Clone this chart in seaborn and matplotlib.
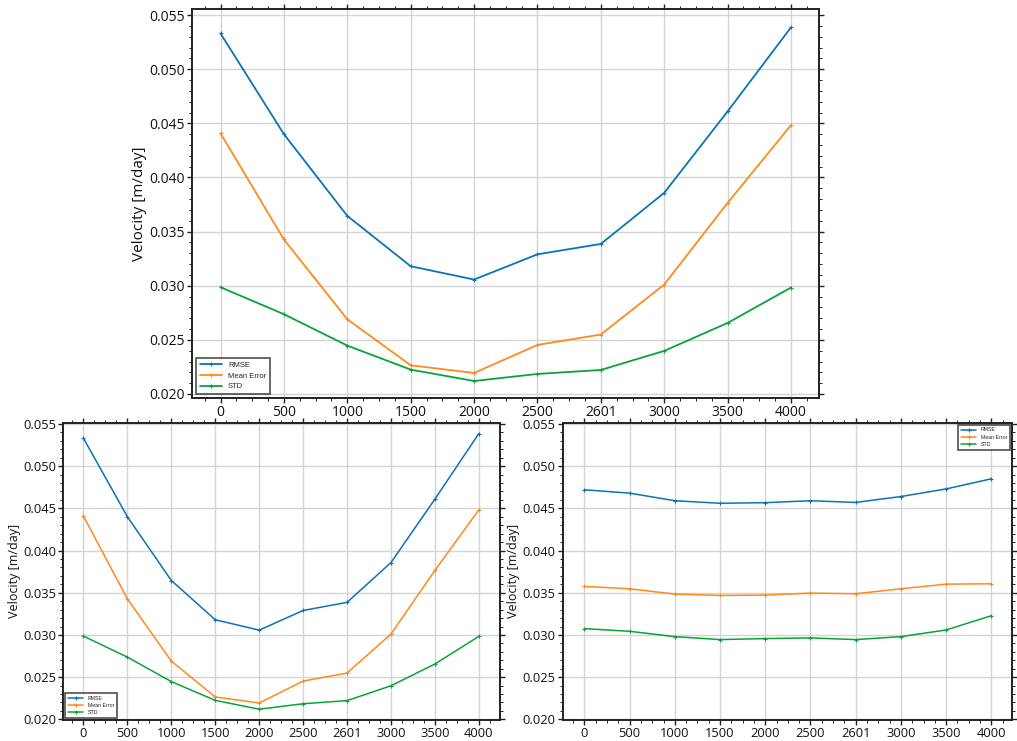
import matplotlib
matplotlib.use("Agg")
import matplotlib.pyplot as plt
import seaborn as sns
from matplotlib.ticker import AutoMinorLocator, MultipleLocator, FormatStrFormatter

sns.set_theme(style="white")
plt.rcParams['font.family'] = ['Open Sans', 'DejaVu Sans']

categories = ["0", "500", "1000", "1500", "2000", "2500", "2601", "3000", "3500", "4000"]

rmse_a = [0.0533, 0.0440, 0.03645, 0.0318, 0.03057, 0.0329, 0.03386, 0.03858, 0.0461, 0.05386]
mean_a = [0.04407, 0.03427, 0.0269, 0.02265, 0.02194, 0.02453, 0.02549, 0.03011, 0.03765, 0.04483]
std_a = [0.02986, 0.02737, 0.02447, 0.02225, 0.0212, 0.02185, 0.02222, 0.02398, 0.02656, 0.02983]

rmse_b = [0.0472, 0.0468, 0.0459, 0.0456, 0.04567, 0.0459, 0.0457, 0.0464, 0.0473, 0.0485]
mean_b = [0.03575, 0.03547, 0.03484, 0.03468, 0.03472, 0.03496, 0.03488, 0.03547, 0.03602, 0.03606]
std_b = [0.03075, 0.03043, 0.0298, 0.02945, 0.02957, 0.02965, 0.02945, 0.0298, 0.03059, 0.03228]

series_names = ["RMSE", "Mean Error", "STD"]
colors = ["#0a74b4", "#ff8a1c", "#0aa33a"]
ylabel = "Velocity [m/day]"

fig = plt.figure(figsize=(10.17, 7.41), dpi=100)
ax_top = fig.add_axes([0.1888, 0.4629, 0.617, 0.5245])
ax_bl = fig.add_axes([0.0622, 0.0283, 0.4294, 0.4013])
ax_br = fig.add_axes([0.5533, 0.0283, 0.4415, 0.4013])


def draw(ax, data, fs, lfs, loc, xlim, ylim, lab_fs, lw, bap):
    for name, vals, c in zip(series_names, data, colors):
        sns.lineplot(x=categories, y=vals, sort=False, ax=ax, color=c, label=name,
                     marker="+", markersize=2.8, markeredgewidth=0.8,
                     markeredgecolor=c, markerfacecolor=c, linewidth=lw)
    ax.set_xlim(*xlim)
    ax.set_ylim(*ylim)
    ax.yaxis.set_major_locator(MultipleLocator(0.005))
    ax.yaxis.set_minor_locator(AutoMinorLocator(5))
    ax.xaxis.set_minor_locator(AutoMinorLocator(4))
    ax.yaxis.set_major_formatter(FormatStrFormatter("%.3f"))
    ax.grid(True, which="major", color="#d4d4d4", linewidth=1.0)
    ax.tick_params(which="both", direction="out", top=True, right=True,
                   bottom=True, left=True, colors="#222222", labelcolor="#111111")
    ax.tick_params(which="major", length=3.5, width=1.0, labelsize=fs, pad=1.5)
    ax.tick_params(which="minor", length=2, width=0.7)
    ax.tick_params(labeltop=False, labelright=False)
    for s in ax.spines.values():
        s.set_color("#222222")
        s.set_linewidth(1.4)
    ax.set_xlabel("")
    ax.set_ylabel(ylabel, fontsize=lab_fs, color="#111111", labelpad=2)
    leg = ax.legend(loc=loc, frameon=True, fancybox=False,
                    prop={"family": ["Liberation Sans", "DejaVu Sans"], "size": lfs},
                    borderpad=0.5, handlelength=2.9, handletextpad=0.8,
                    labelspacing=0.45, borderaxespad=bap)
    leg.get_frame().set_edgecolor("#222222")
    leg.get_frame().set_linewidth(1.2)


draw(ax_top, [rmse_a, mean_a, std_a], 10, 5.5, "lower left", (-0.45, 9.45), (0.01963, 0.05553), 11, 1.3, 0.5)
draw(ax_bl, [rmse_a, mean_a, std_a], 9.3, 3.8, "lower left", (-0.46, 9.48), (0.01992, 0.05515), 9, 1.1, 0.4)
draw(ax_br, [rmse_b, mean_b, std_b], 9.3, 3.8, "upper right", (-0.48, 9.45), (0.01992, 0.05515), 9, 1.1, 0.4)

fig.savefig("out.png", dpi=100)
